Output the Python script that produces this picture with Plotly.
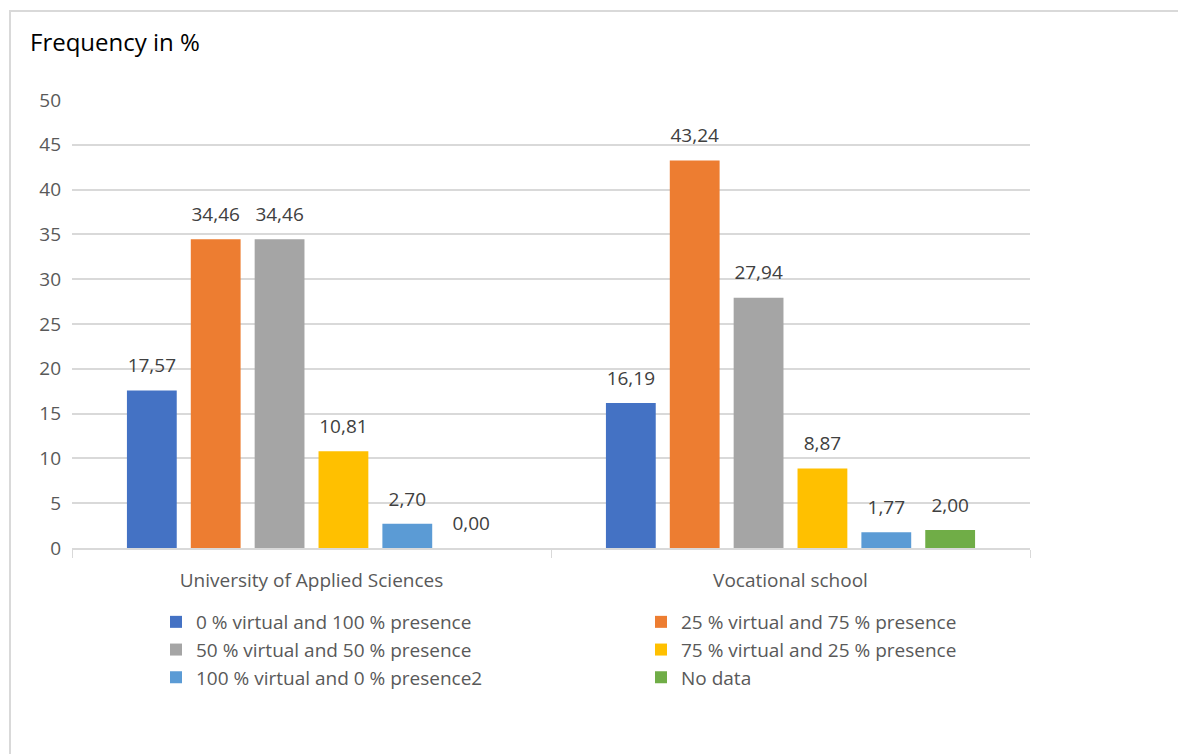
import plotly.graph_objects as go

categories = ["University of Applied Sciences", "Vocational school"]
series_names = [
    "0 % virtual and 100 % presence",
    "25 % virtual and 75 % presence",
    "50 % virtual and 50 % presence",
    "75 % virtual and 25 % presence",
    "100 % virtual and 0 % presence2",
    "No data",
]
values_0_100 = [17.57, 16.19]
values_25_75 = [34.46, 43.24]
values_50_50 = [34.46, 27.94]
values_75_25 = [10.81, 8.87]
values_100_0 = [2.70, 1.77]
values_nodata = [0.00, 2.00]
y_ticks = [0, 5, 10, 15, 20, 25, 30, 35, 40, 45, 50]

series_values = [values_0_100, values_25_75, values_50_50, values_75_25, values_100_0, values_nodata]
colors = ["#4472C4", "#ED7D31", "#A5A5A5", "#FFC000", "#5B9BD5", "#70AD47"]

W, H = 1178, 754
FONT = "Open Sans"
FS = 19

fig = go.Figure()
for i, (name, vals, col) in enumerate(zip(series_names, series_values, colors)):
    fig.add_trace(go.Bar(
        x=categories, y=vals, name=name, marker_color=col, marker_line_width=0,
        offsetgroup=str(i), alignmentgroup="a",
    ))
# value labels, grouped like the bars
for i, (name, vals) in enumerate(zip(series_names, series_values)):
    fig.add_trace(go.Scatter(
        x=categories, y=vals, mode="markers+text", showlegend=False, hoverinfo="skip",
        offsetgroup=str(i), alignmentgroup="a",
        marker=dict(size=20, opacity=0, color="white"),
        text=[f"{v:.2f}".replace(".", ",") for v in vals],
        textposition="top center", cliponaxis=False,
        textfont=dict(family=FONT, size=FS, color="#404040"),
    ))

fig.update_layout(
    width=W, height=H,
    margin=dict(l=0, r=0, t=0, b=0, autoexpand=False),
    paper_bgcolor="white", plot_bgcolor="white",
    barmode="group", bargap=0.2, bargroupgap=0.22,
    scattermode="group", scattergap=0.2,
    font=dict(family=FONT, size=FS, color="#595959"),
    showlegend=True,
    legend=dict(
        orientation="h", xref="container", yref="container",
        x=156 / W, xanchor="left", y=1 - 603 / H, yanchor="top",
        entrywidth=440, entrywidthmode="pixels",
        font=dict(family=FONT, size=FS, color="#595959"),
        itemclick=False, tracegroupgap=0,
    ),
)
fig.update_xaxes(
    domain=[72 / W, 1030 / W], automargin=False,
    showline=True, linecolor="#d9d9d9", linewidth=1.5,
    ticks="outside", tickson="boundaries", ticklen=8, tickcolor="#d9d9d9",
    showgrid=False, ticklabelstandoff=14,
    tickfont=dict(family=FONT, size=FS, color="#595959"),
)
fig.update_yaxes(
    domain=[1 - 548 / H, 1 - 100 / H], automargin=False,
    range=[0, 50], tickvals=y_ticks,
    showgrid=True, gridcolor="#d9d9d9", gridwidth=1.5,
    zeroline=False, showline=False,
    ticklabelstandoff=10,
    tickfont=dict(family=FONT, size=FS, color="#595959"),
)
fig.add_shape(type="rect", xref="paper", yref="paper",
              x0=10 / W, x1=1.05, y0=1 - 11 / H, y1=-0.05,
              line=dict(color="#d9d9d9", width=2), fillcolor="rgba(0,0,0,0)", layer="below")
fig.add_annotation(text="Frequency in %", xref="paper", yref="paper",
                   x=28 / W, y=1 - 41 / H, xanchor="left", yanchor="middle",
                   showarrow=False, font=dict(family=FONT, size=24, color="#000000"))

fig.write_html("out.html")
